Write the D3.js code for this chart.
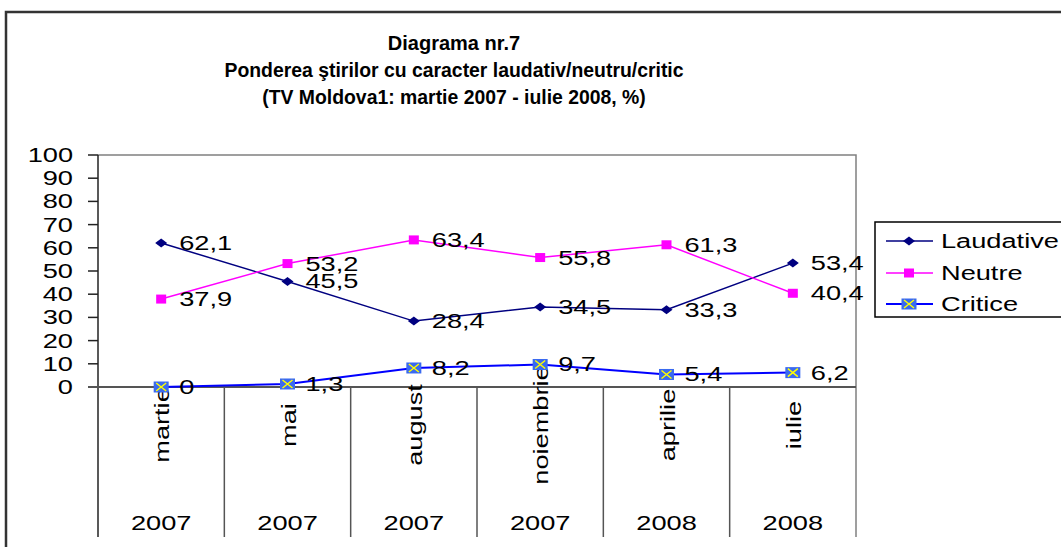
<!DOCTYPE html>
<html>
<head>
<meta charset="utf-8">
<script src="https://cdn.jsdelivr.net/npm/d3@7"></script>
<style>
  body { margin: 0; background: #fff; }
  svg { display: block; font-family: "Liberation Sans", Arial, sans-serif; }
</style>
</head>
<body>
<div id="graphique"></div>
<script>
// Donnees
const luni = ['martie', 'mai', 'august', 'noiembrie', 'aprilie', 'iulie']
const ani = ['2007', '2007', '2007', '2007', '2008', '2008']
const laudative = [62.1, 45.5, 28.4, 34.5, 33.3, 53.4]
const neutre = [37.9, 53.2, 63.4, 55.8, 61.3, 40.4]
const critice = [0, 1.3, 8.2, 9.7, 5.4, 6.2]
const yTicks = [0, 10, 20, 30, 40, 50, 60, 70, 80, 90, 100]
const titlu = ['Diagrama nr.7',
  'Ponderea ştirilor cu caracter laudativ/neutru/critic',
  '(TV Moldova1: martie 2007 - iulie 2008, %)']

const series = [
  { name: 'Laudative', values: laudative, color: '#000080', width: 1.5, marker: 'diamond' },
  { name: 'Neutre', values: neutre, color: '#ff00ff', width: 1.5, marker: 'square' },
  { name: 'Critice', values: critice, color: '#0000ff', width: 2, marker: 'xbox' }
]

const W = 1061, H = 547
const plot = { left: 98, right: 856, top: 155, bottom: 387 }
const SX = 1.36 // les polices du graphique sont etirees en largeur
const fs = 20

let svg = d3.select('#graphique').append('svg')
  .attr('width', W).attr('height', H)

// cadre exterieur
svg.append('path')
  .attr('d', `M6,${H} L6,12 L${W},12`)
  .attr('fill', 'none').attr('stroke', '#333').attr('stroke-width', 2.5)

// titre
svg.append('g').selectAll('text')
  .data(titlu)
  .join('text')
  .attr('x', 454)
  .attr('y', (d, i) => 50 + i * 27)
  .attr('text-anchor', 'middle')
  .attr('font-weight', 'bold')
  .attr('font-size', (d, i) => i === 0 ? 20 : 19.4)
  .text(d => d)

// echelles
let x = d3.scaleBand().domain(d3.range(luni.length)).range([plot.left, plot.right])
let cx = i => x(i) + x.bandwidth() / 2
let y = d3.scaleLinear().domain([0, 100]).range([plot.bottom, plot.top])

let txt = (g, tx, ty, s, anchor, rot) => g.append('text')
  .attr('transform', `translate(${tx},${ty})` + (rot ? ` rotate(${rot})` : '') + ` scale(${SX},1)`)
  .attr('text-anchor', anchor || 'start')
  .attr('font-size', fs)
  .attr('fill', '#000')
  .text(s)

// bord de la zone de trace
svg.append('path')
  .attr('d', `M${plot.left},${plot.top} L${plot.right},${plot.top} L${plot.right},${plot.bottom + 150}`)
  .attr('fill', 'none').attr('stroke', '#808080').attr('stroke-width', 1.5)

// axe y
let yAxis = svg.append('g')
yAxis.append('line')
  .attr('x1', plot.left).attr('x2', plot.left)
  .attr('y1', plot.top).attr('y2', plot.bottom + 150)
  .attr('stroke', '#222').attr('stroke-width', 1.5)
yTicks.forEach(t => {
  yAxis.append('line')
    .attr('x1', plot.left - 10).attr('x2', plot.left)
    .attr('y1', y(t)).attr('y2', y(t))
    .attr('stroke', '#222').attr('stroke-width', 1.5)
  txt(yAxis, 73, y(t) + 7, t, 'end')
})

// axe x (categories sur deux niveaux)
let xAxis = svg.append('g')
xAxis.append('line')
  .attr('x1', plot.left - 10).attr('x2', plot.right)
  .attr('y1', plot.bottom).attr('y2', plot.bottom)
  .attr('stroke', '#555').attr('stroke-width', 2)
d3.range(1, luni.length).forEach(i => {
  xAxis.append('line')
    .attr('x1', x(i)).attr('x2', x(i))
    .attr('y1', plot.bottom).attr('y2', plot.bottom + 150)
    .attr('stroke', '#555').attr('stroke-width', 1.5)
})

// series
let line = d3.line().x((d, i) => cx(i)).y(d => y(d))
series.forEach(s => {
  svg.append('path')
    .datum(s.values)
    .attr('d', line)
    .attr('fill', 'none')
    .attr('stroke', s.color)
    .attr('stroke-width', s.width)
})

let drawMarker = (g, type, px, py) => {
  if (type === 'diamond') {
    g.append('path')
      .attr('d', `M${px - 6},${py} L${px},${py - 4.5} L${px + 6},${py} L${px},${py + 4.5} Z`)
      .attr('fill', '#000080')
  } else if (type === 'square') {
    g.append('rect')
      .attr('x', px - 5).attr('y', py - 4.5).attr('width', 10).attr('height', 9)
      .attr('fill', '#ff00ff')
  } else {
    g.append('rect')
      .attr('x', px - 7.5).attr('y', py - 5.5).attr('width', 15).attr('height', 11)
      .attr('fill', '#3a6af0')
    g.append('path')
      .attr('d', `M${px - 5},${py - 4} L${px + 5},${py + 4} M${px - 5},${py + 4} L${px + 5},${py - 4}`)
      .attr('stroke', '#ffff00').attr('stroke-width', 1.5)
  }
}

// etiquettes des mois (sous les series de Critice)
let labels = svg.append('g')
luni.forEach((m, i) => {
  txt(labels, cx(i) + 8, 425, m, 'middle', -90)
  txt(labels, cx(i), 530, ani[i], 'middle')
})

series.forEach(s => {
  let g = svg.append('g')
  s.values.forEach((v, i) => {
    drawMarker(g, s.marker, cx(i), y(v))
    txt(g, cx(i) + 18, y(v) + 7, String(v).replace('.', ','))
  })
})

// legende
let leg = svg.append('g')
leg.append('rect')
  .attr('x', 875).attr('y', 222).attr('width', 200).attr('height', 95)
  .attr('fill', '#fff').attr('stroke', '#000').attr('stroke-width', 1.5)
series.forEach((s, i) => {
  let ly = [241, 273, 304][i]
  leg.append('line')
    .attr('x1', 886).attr('x2', 933).attr('y1', ly).attr('y2', ly)
    .attr('stroke', s.color).attr('stroke-width', s.width)
  drawMarker(leg, s.marker, 909, ly)
  txt(leg, 941, ly + 7, s.name)
})
</script>
</body>
</html>
